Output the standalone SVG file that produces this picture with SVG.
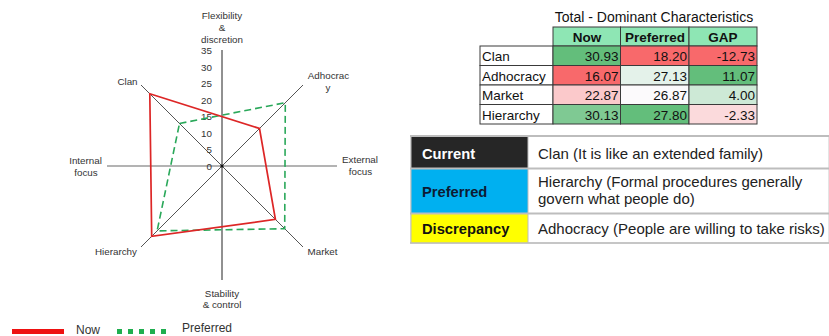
<svg xmlns="http://www.w3.org/2000/svg" width="829" height="336" viewBox="0 0 829 336">
<style>
.lbl{font-family:"Liberation Sans",Arial,sans-serif;font-size:9.8px;fill:#333;text-anchor:middle}
.tick{font-family:"Liberation Sans",Arial,sans-serif;font-size:9.8px;fill:#333;text-anchor:end}
.tt{font-family:"Liberation Sans",Arial,sans-serif;font-size:13.5px;fill:#111}
.num{text-anchor:end}
.hd{font-weight:bold;text-anchor:middle}
.cell{stroke:#3a3a3a;stroke-width:1}
.lt{font-family:"Liberation Sans",Arial,sans-serif;font-size:15px;fill:#222}
.lb{font-family:"Liberation Sans",Arial,sans-serif;font-size:14.7px;font-weight:bold}
.leg{font-family:"Liberation Sans",Arial,sans-serif;font-size:12px;fill:#333}
</style>
<rect width="829" height="336" fill="#ffffff"/>

<g id="radar-axes">
  <line x1="107" y1="166" x2="337" y2="166" stroke="#9a9a9a" stroke-width="1.6"/>
  <line x1="222" y1="50" x2="222" y2="280" stroke="#222" stroke-width="1"/>
  <line x1="141" y1="85" x2="303" y2="247" stroke="#555" stroke-width="1"/>
  <line x1="303" y1="85" x2="141" y2="247" stroke="#555" stroke-width="1"/>
  <circle cx="222" cy="166" r="1.6" fill="#111"/>
</g>

<g id="ticks">
  <text class="tick" x="212" y="169.5">0</text>
  <text class="tick" x="212" y="153">5</text>
  <text class="tick" x="212" y="136.5">10</text>
  <text class="tick" x="212" y="120">15</text>
  <text class="tick" x="212" y="103.5">20</text>
  <text class="tick" x="212" y="87">25</text>
  <text class="tick" x="212" y="70.5">30</text>
  <text class="tick" x="212" y="54">35</text>
</g>

<g id="axis-labels">
  <text class="lbl" x="222" y="18.5">Flexibility</text>
  <text class="lbl" x="222" y="30.5">&amp;</text>
  <text class="lbl" x="222" y="42.5">discretion</text>
  <text class="lbl" x="127.5" y="84.5">Clan</text>
  <text class="lbl" x="328.5" y="78.5">Adhocrac</text>
  <text class="lbl" x="328" y="90.5">y</text>
  <text class="lbl" x="85.5" y="163.5">Internal</text>
  <text class="lbl" x="86" y="175.5">focus</text>
  <text class="lbl" x="360" y="162.5">External</text>
  <text class="lbl" x="360.5" y="175">focus</text>
  <text class="lbl" x="116" y="254.5">Hierarchy</text>
  <text class="lbl" x="322.5" y="254.5">Market</text>
  <text class="lbl" x="222" y="296.5">Stability</text>
  <text class="lbl" x="222" y="307.5">&amp; control</text>
</g>

<g id="series">
  <polygon id="preferred" points="179.5,123.5 285.3,102.7 284.7,228.7 157.1,230.9" fill="none" stroke="#2aa85a" stroke-width="1.6" stroke-dasharray="7,4"/>
  <polygon id="now" points="149.8,93.8 259.5,128.5 275.4,219.4 151.7,236.3" fill="none" stroke="#dd2626" stroke-width="1.7"/>
</g>

<g id="legend">
  <rect x="12" y="329" width="52" height="5" fill="#ee1111"/>
  <text class="leg" x="76" y="334">Now</text>
  <line x1="117" y1="331.5" x2="167" y2="331.5" stroke="#1fae4f" stroke-width="5" stroke-dasharray="5,6"/>
  <text class="leg" x="182" y="331.5">Preferred</text>
</g>

<g id="score-table">
  <text class="tt" x="654" y="22" text-anchor="middle" style="font-size:14px">Total - Dominant Characteristics</text>
  <rect class="cell" x="553" y="27" width="67.5" height="19" fill="#8ee6b4"/>
  <rect class="cell" x="620.5" y="27" width="68.5" height="19" fill="#8ee6b4"/>
  <rect class="cell" x="689" y="27" width="68" height="19" fill="#8ee6b4"/>
  <text class="tt hd" x="587" y="41.5">Now</text>
  <text class="tt hd" x="655" y="41.5">Preferred</text>
  <text class="tt hd" x="723" y="41.5">GAP</text>

  <rect class="cell" x="480" y="46" width="73" height="19.5" fill="#fff"/>
  <rect class="cell" x="553" y="46" width="67.5" height="19.5" fill="#63be7b"/>
  <rect class="cell" x="620.5" y="46" width="68.5" height="19.5" fill="#f8696b"/>
  <rect class="cell" x="689" y="46" width="68" height="19.5" fill="#f8696b"/>
  <text class="tt" x="482" y="61">Clan</text>
  <text class="tt num" x="618.5" y="61">30.93</text>
  <text class="tt num" x="687" y="61">18.20</text>
  <text class="tt num" x="755" y="61">-12.73</text>

  <rect class="cell" x="480" y="65.5" width="73" height="19.5" fill="#fff"/>
  <rect class="cell" x="553" y="65.5" width="67.5" height="19.5" fill="#f8696b"/>
  <rect class="cell" x="620.5" y="65.5" width="68.5" height="19.5" fill="#e4f2ea"/>
  <rect class="cell" x="689" y="65.5" width="68" height="19.5" fill="#63be7b"/>
  <text class="tt" x="482" y="80.5">Adhocracy</text>
  <text class="tt num" x="618.5" y="80.5">16.07</text>
  <text class="tt num" x="687" y="80.5">27.13</text>
  <text class="tt num" x="755" y="80.5">11.07</text>

  <rect class="cell" x="480" y="85" width="73" height="19.5" fill="#fff"/>
  <rect class="cell" x="553" y="85" width="67.5" height="19.5" fill="#fbc9cb"/>
  <rect class="cell" x="620.5" y="85" width="68.5" height="19.5" fill="#fcfafc"/>
  <rect class="cell" x="689" y="85" width="68" height="19.5" fill="#cde9d6"/>
  <text class="tt" x="482" y="100">Market</text>
  <text class="tt num" x="618.5" y="100">22.87</text>
  <text class="tt num" x="687" y="100">26.87</text>
  <text class="tt num" x="755" y="100">4.00</text>

  <rect class="cell" x="480" y="104.5" width="73" height="19.5" fill="#fff"/>
  <rect class="cell" x="553" y="104.5" width="67.5" height="19.5" fill="#7fc993"/>
  <rect class="cell" x="620.5" y="104.5" width="68.5" height="19.5" fill="#63be7b"/>
  <rect class="cell" x="689" y="104.5" width="68" height="19.5" fill="#fbdadc"/>
  <text class="tt" x="482" y="119.5">Hierarchy</text>
  <text class="tt num" x="618.5" y="119.5">30.13</text>
  <text class="tt num" x="687" y="119.5">27.80</text>
  <text class="tt num" x="755" y="119.5">-2.33</text>
</g>

<g id="summary-table">
  <rect x="411" y="136" width="418" height="107" fill="#fff" stroke="#c8c8c8" stroke-width="1"/>
  <rect x="411" y="137" width="117" height="31" fill="#262626"/>
  <rect x="411" y="169" width="117" height="44" fill="#00b0f0"/>
  <rect x="411" y="214" width="117" height="29" fill="#ffff00"/>
  <line x1="410" y1="136" x2="829" y2="136" stroke="#bdbdbd" stroke-width="2"/>
  <line x1="410" y1="168.5" x2="829" y2="168.5" stroke="#bdbdbd" stroke-width="2"/>
  <line x1="410" y1="213.5" x2="829" y2="213.5" stroke="#bdbdbd" stroke-width="2"/>
  <line x1="410" y1="243" x2="829" y2="243" stroke="#bdbdbd" stroke-width="1.5"/>
  <line x1="528" y1="136" x2="528" y2="243" stroke="#bdbdbd" stroke-width="1"/>
  <line x1="411" y1="136" x2="411" y2="243" stroke="#bdbdbd" stroke-width="1"/>
  <text class="lb" x="422" y="159" fill="#ffffff">Current</text>
  <text class="lb" x="422" y="196.5" fill="#0d1b33">Preferred</text>
  <text class="lb" x="422" y="234" fill="#111">Discrepancy</text>
  <text class="lt" x="538" y="159">Clan (It is like an extended family)</text>
  <text class="lt" x="538" y="187">Hierarchy (Formal procedures generally</text>
  <text class="lt" x="538" y="204">govern what people do)</text>
  <text class="lt" x="538" y="234">Adhocracy (People are willing to take risks)</text>
</g>
</svg>
